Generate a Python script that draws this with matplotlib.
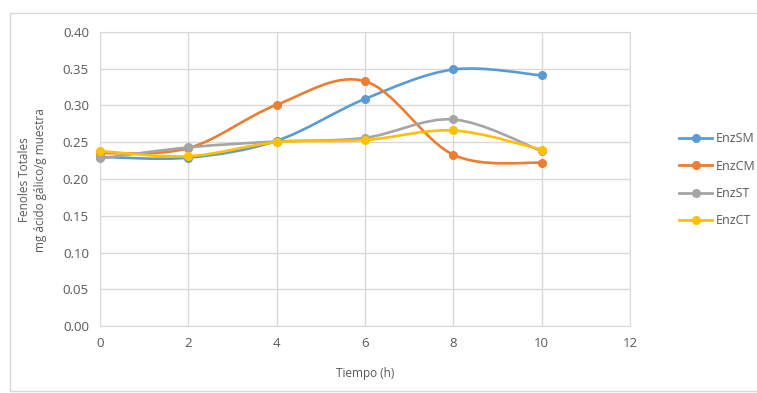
import numpy as np
import matplotlib
matplotlib.use("Agg")
import matplotlib.pyplot as plt
from matplotlib.path import Path
from matplotlib.patches import PathPatch, Rectangle
from matplotlib.lines import Line2D

plt.rcParams["font.family"] = ["Open Sans", "DejaVu Sans"]

# ── Data ─────────────────────────────────────────────────────────────────────
tiempo = [0, 2, 4, 6, 8, 10]
enz_sm = [0.230, 0.229, 0.252, 0.309, 0.349, 0.341]
enz_cm = [0.235, 0.242, 0.301, 0.333, 0.233, 0.222]
enz_st = [0.228, 0.243, 0.251, 0.256, 0.281, 0.238]
enz_ct = [0.238, 0.231, 0.250, 0.253, 0.266, 0.240]

series = [
    ("EnzSM", enz_sm, "#5b9bd5"),
    ("EnzCM", enz_cm, "#ed7d31"),
    ("EnzST", enz_st, "#a5a5a5"),
    ("EnzCT", enz_ct, "#ffc000"),
]

TXT = "#595959"
GRID = "#d9d9d9"


def smooth_path(xs, ys):
    """Bezier path through the points, spreadsheet-style smoothing."""
    pts = np.column_stack([xs, ys]).astype(float)
    verts = [pts[0]]
    codes = [Path.MOVETO]
    n = len(pts)
    for i in range(n - 1):
        p0 = pts[max(i - 1, 0)]
        p1 = pts[i]
        p2 = pts[i + 1]
        p3 = pts[min(i + 2, n - 1)]
        c1 = p1 + (p2 - p0) / 6.0
        c2 = p2 - (p3 - p1) / 6.0
        verts += [c1, c2, p2]
        codes += [Path.CURVE4] * 3
    return Path(verts, codes)


fig = plt.figure(figsize=(7.57, 3.93), dpi=100)
ax = fig.add_axes([100 / 757, 1 - 326 / 393, 530 / 757, 294 / 393])

for name, vals, color in series:
    ax.add_patch(PathPatch(smooth_path(tiempo, vals), facecolor="none",
                           edgecolor=color, lw=1.9, zorder=3, clip_on=False))
    ax.plot(tiempo, vals, "o", color=color, ms=5.5, zorder=4, clip_on=False)

ax.set_xlim(0, 12)
ax.set_ylim(0, 0.40)
ax.set_xticks(range(0, 13, 2))
ax.set_yticks(np.arange(0, 0.401, 0.05))
ax.yaxis.set_major_formatter(matplotlib.ticker.FormatStrFormatter("%.2f"))
ax.grid(True, color=GRID, lw=1)
ax.set_axisbelow(True)
for sp in ax.spines.values():
    sp.set_color(GRID)
ax.tick_params(length=0, colors=TXT, labelsize=9.5, pad=8)

ax.set_xlabel("Tiempo (h)", color=TXT, fontsize=8.5, labelpad=12)
fig.text(25 / 757, 1 - 180 / 393, "Fenoles Totales", rotation=90,
         color=TXT, fontsize=8.5, ha="center", va="center")
fig.text(41 / 757, 1 - 180 / 393, "mg ácido gálico/g muestra", rotation=90,
         color=TXT, fontsize=8.5, ha="center", va="center")

handles = [Line2D([], [], color=c, lw=2, marker="o", ms=5.5) for _, _, c in series]
fig.legend(handles, [s[0] for s in series], loc="upper left",
           bbox_to_anchor=(668 / 757, 1 - 121 / 393), frameon=False,
           labelcolor=TXT, fontsize=9, handlelength=2.6, labelspacing=1.15,
           handletextpad=0.3)

# chart frame
fig.add_artist(Rectangle((10 / 757, 0.005), 1.2, 1 - 13 / 393 - 0.005,
                         transform=fig.transFigure, fill=False,
                         edgecolor=GRID, lw=1))

fig.savefig("out.png", dpi=100)
